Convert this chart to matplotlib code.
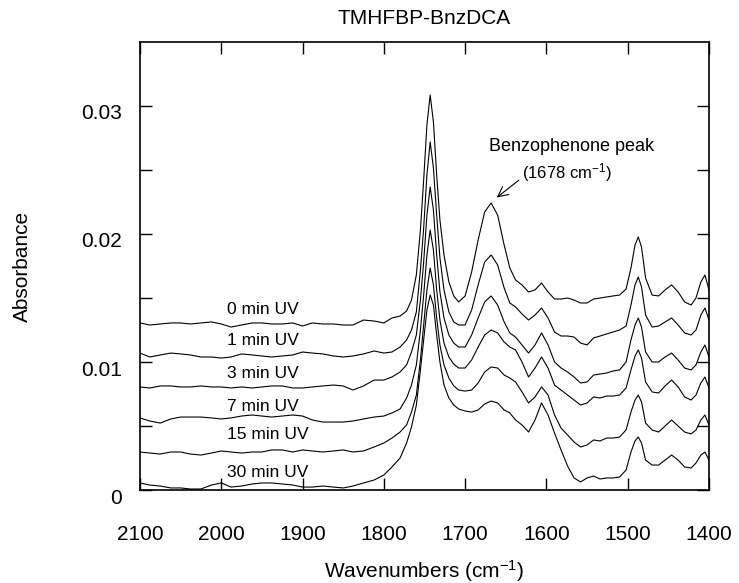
import numpy as np
import matplotlib.pyplot as plt
import matplotlib.transforms as mtransforms

plt.rcParams['font.family'] = ['Liberation Sans', 'DejaVu Sans']
plt.rcParams['mathtext.fontset'] = 'custom'
plt.rcParams['mathtext.rm'] = 'Liberation Sans'
plt.rcParams['mathtext.it'] = 'Liberation Sans:italic'

# wavenumber grid (cm-1) the spectra were read at
wavenumbers = [2100, 2088, 2075, 2062, 2050, 2038, 2025, 2012, 2000, 1988,
               1975, 1962, 1950, 1938, 1925, 1912, 1900, 1888, 1875, 1862,
               1850, 1838, 1825, 1812, 1800, 1790, 1780, 1772, 1766, 1760,
               1755, 1751, 1747, 1743, 1739, 1735, 1731, 1726, 1720, 1714,
               1708, 1700, 1692, 1684, 1676, 1668, 1660, 1652, 1645, 1638,
               1630, 1622, 1614, 1606, 1598, 1590, 1582, 1574, 1566, 1558,
               1550, 1542, 1534, 1526, 1518, 1510, 1502, 1496, 1491, 1487,
               1483, 1478, 1470, 1462, 1454, 1446, 1438, 1430, 1422, 1416,
               1410, 1405, 1400]

# absorbance x 1000 for each UV exposure time
abs_0min = [13.05, 12.89, 12.97, 13.05, 13.05, 12.97, 13.05, 13.13, 12.97, 12.73,
            12.89, 13.05, 13.05, 12.97, 12.97, 13.05, 12.81, 13.05, 12.97, 12.97,
            12.89, 12.89, 13.28, 13.20, 13.05, 13.44, 13.59, 13.98, 14.84, 16.80,
            20.31, 24.22, 28.52, 30.86, 28.75, 24.61, 21.09, 18.36, 16.25, 15.16,
            14.69, 15.16, 17.03, 19.53, 21.72, 22.42, 21.48, 19.14, 17.34, 16.41,
            16.02, 15.47, 15.63, 16.17, 15.47, 14.92, 14.92, 15.00, 14.84, 14.61,
            14.61, 14.92, 15.00, 15.08, 15.16, 15.23, 15.70, 17.34, 19.14, 19.77,
            18.98, 16.56, 15.23, 15.16, 15.63, 16.02, 15.47, 14.69, 14.45, 15.00,
            16.25, 16.80, 15.63]
abs_1min = [10.70, 10.39, 10.55, 10.70, 10.63, 10.55, 10.39, 10.39, 10.31, 10.39,
            10.63, 10.55, 10.47, 10.39, 10.47, 10.55, 10.78, 10.70, 10.63, 10.47,
            10.39, 10.47, 10.63, 10.86, 10.70, 10.78, 11.17, 11.72, 12.50, 13.91,
            17.19, 20.47, 24.61, 27.19, 25.16, 21.48, 18.13, 15.63, 13.91, 13.13,
            12.89, 12.89, 14.06, 16.02, 17.81, 18.36, 17.58, 15.78, 14.61, 14.30,
            13.75, 13.28, 13.67, 14.22, 13.44, 12.34, 12.03, 12.03, 11.95, 11.48,
            11.33, 11.88, 12.03, 12.19, 12.34, 12.50, 12.81, 14.45, 16.02, 16.64,
            15.86, 13.67, 12.73, 12.81, 13.13, 13.44, 12.89, 12.27, 12.11, 12.50,
            13.67, 14.22, 13.28]
abs_3min = [8.05, 7.97, 8.13, 8.13, 8.05, 8.05, 8.13, 8.05, 8.05, 7.97,
            8.05, 7.97, 8.05, 8.13, 8.13, 7.97, 7.97, 8.05, 8.13, 8.20,
            8.13, 7.81, 8.13, 8.59, 8.59, 8.83, 9.22, 9.77, 10.78, 12.11,
            14.84, 17.81, 21.48, 23.67, 21.88, 18.36, 15.47, 13.44, 12.11, 11.48,
            11.17, 11.17, 12.11, 13.44, 14.69, 15.16, 14.45, 13.13, 12.27, 11.95,
            11.33, 10.70, 11.33, 12.27, 11.33, 10.00, 9.53, 9.22, 8.83, 8.36,
            8.44, 8.98, 9.06, 9.14, 9.30, 9.38, 10.00, 11.72, 12.89, 13.44,
            12.73, 10.78, 10.00, 10.00, 10.39, 10.70, 10.16, 9.53, 9.38, 9.77,
            10.78, 11.33, 10.39]
abs_7min = [5.63, 5.39, 5.23, 5.55, 5.70, 5.70, 5.70, 5.63, 5.55, 5.63,
            5.78, 5.86, 5.78, 5.70, 5.78, 5.86, 5.78, 5.47, 5.31, 5.31,
            5.31, 5.39, 5.55, 5.70, 5.78, 6.02, 6.33, 7.19, 8.20, 9.77,
            12.50, 15.23, 18.36, 20.31, 18.75, 15.63, 13.28, 11.48, 10.39, 9.84,
            9.53, 9.53, 10.16, 11.17, 12.11, 12.50, 12.27, 11.56, 11.17, 10.94,
            10.00, 8.83, 9.53, 10.39, 9.53, 8.20, 7.81, 7.42, 7.03, 6.64,
            6.80, 7.27, 7.19, 7.34, 7.34, 7.42, 7.97, 9.38, 10.47, 10.94,
            10.31, 8.44, 7.66, 7.58, 8.13, 8.59, 8.05, 7.27, 7.03, 7.42,
            8.36, 8.83, 7.97]
abs_15min = [2.97, 2.89, 2.81, 2.97, 2.97, 2.81, 2.73, 2.89, 3.05, 2.97,
             2.89, 2.97, 2.97, 3.13, 3.13, 2.97, 3.13, 3.05, 2.97, 3.05,
             3.13, 2.97, 3.05, 3.36, 3.67, 4.06, 4.53, 5.08, 6.09, 7.42,
             10.16, 12.89, 15.63, 17.34, 16.02, 13.44, 11.33, 9.77, 8.75, 8.13,
             7.81, 7.73, 7.81, 8.36, 9.22, 9.61, 9.53, 8.98, 8.75, 8.44,
             7.66, 6.80, 7.27, 8.05, 7.42, 5.86, 4.84, 4.30, 3.75, 3.36,
             3.52, 3.91, 3.83, 4.06, 4.06, 4.14, 4.69, 6.09, 7.03, 7.42,
             6.88, 5.23, 4.69, 4.53, 5.00, 5.47, 5.00, 4.53, 4.38, 4.69,
             5.47, 5.86, 5.08]
abs_30min = [0.55, 0.39, 0.31, 0.16, 0.16, 0.08, 0.08, 0.39, 0.55, 0.23,
             0.31, 0.47, 0.55, 0.55, 0.47, 0.39, 0.23, 0.23, 0.31, 0.23,
             0.16, 0.31, 0.55, 0.78, 1.17, 1.80, 2.50, 3.67, 4.92, 6.64,
             9.38, 11.72, 14.06, 15.23, 14.45, 12.11, 10.00, 8.20, 7.19, 6.64,
             6.33, 6.17, 6.09, 6.25, 6.72, 6.95, 6.80, 6.25, 6.02, 5.47,
             5.08, 4.53, 5.47, 6.80, 5.86, 4.45, 3.13, 1.88, 0.94, 0.63,
             0.94, 1.09, 0.86, 0.94, 0.94, 1.02, 1.56, 2.97, 3.83, 4.14,
             3.67, 2.34, 1.95, 1.95, 2.34, 2.73, 2.34, 1.80, 1.72, 2.11,
             2.73, 2.97, 2.34]

spectra = [abs_0min, abs_1min, abs_3min, abs_7min, abs_15min, abs_30min]
uv_labels = ['0 min UV', '1 min UV', '3 min UV', '7 min UV', '15 min UV', '30 min UV']
label_y = [14.1, 11.7, 9.1, 6.5, 4.3, 1.4]   # x1000, where the labels sit

fig = plt.figure(figsize=(7.39, 5.83), dpi=100)
ax = fig.add_axes([0.1894, 0.1595, 0.7700, 0.7685])

wn = np.array(wavenumbers)
for spec in spectra:
    ax.plot(wn, np.array(spec) / 1000, color='black', lw=0.8)

for lab, ly in zip(uv_labels, label_y):
    ax.text(1993, ly / 1000, lab, ha='left', va='center', fontsize=12.5)

ax.annotate('', xy=(1661, 0.02285), xytext=(1634, 0.0242),
            arrowprops=dict(arrowstyle='->', color='black', lw=0.8,
                            mutation_scale=18, shrinkA=0, shrinkB=0))
ax.text(1569, 0.0268, 'Benzophenone peak', ha='center', va='center', fontsize=13)
ax.text(1575, 0.0248, '(1678 cm$^{-1}$)', ha='center', va='center', fontsize=12)

ax.set_xlim(2100, 1400)
ax.set_ylim(0, 0.035)
ax.set_xticks(np.arange(2100, 1399, -100))
ax.set_yticks([0, 0.01, 0.02, 0.03])
ax.set_yticklabels(['0', '0.01', '0.02', '0.03'])
ax.set_yticks([0.005, 0.015, 0.025], minor=True)
ax.tick_params(which='both', direction='in', top=True, right=True,
               length=8.5, width=1.0, labelsize=15)
ax.tick_params(axis='x', pad=25)
ax.tick_params(axis='y', pad=13)
for s in ax.spines.values():
    s.set_linewidth(1.2)

# y tick labels sit a little below their ticks in the original
offset = mtransforms.ScaledTranslation(0, -6 / 100, fig.dpi_scale_trans)
for lbl in ax.get_yticklabels():
    lbl.set_transform(lbl.get_transform() + offset)

ax.set_title('TMHFBP-BnzDCA', fontsize=15, pad=13)
ax.set_xlabel('Wavenumbers (cm$^{-1}$)', fontsize=15)
ax.set_ylabel('Absorbance', fontsize=15)
ax.xaxis.set_label_coords(0.5, -0.152)
ax.yaxis.set_label_coords(-0.19, 0.5)

fig.savefig('out.png', dpi=100)
